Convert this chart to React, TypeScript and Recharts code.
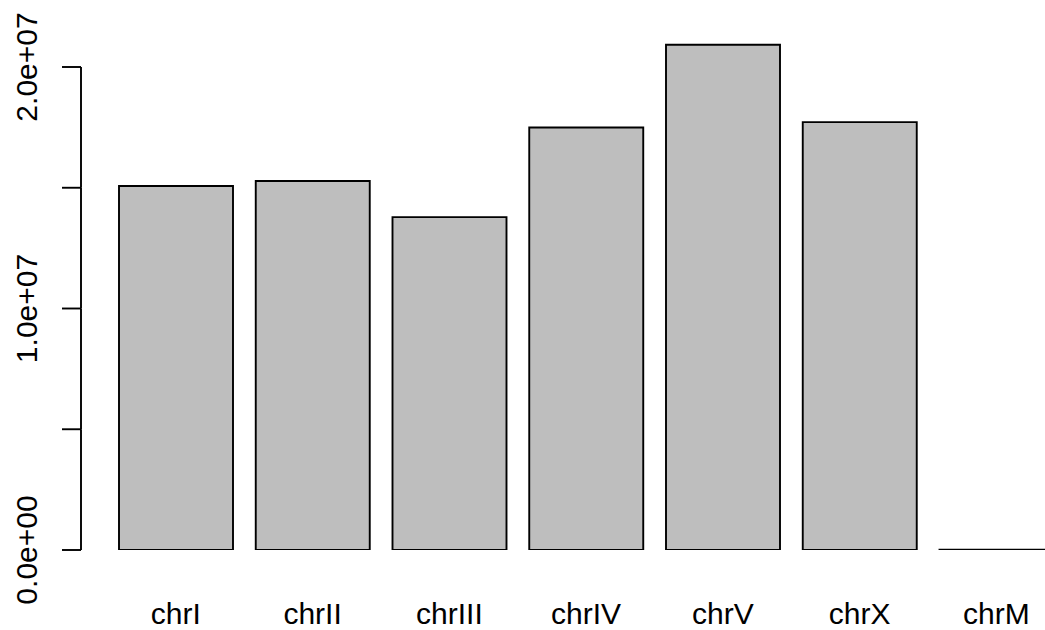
import React from "react";
import { BarChart, Bar, XAxis, YAxis } from "recharts";

const categories = ["chrI", "chrII", "chrIII", "chrIV", "chrV", "chrX", "chrM"];
const lengths = [15072434, 15279421, 13783801, 17493829, 20924180, 17718942, 13794];
const yTicks = [0, 5000000, 10000000, 15000000, 20000000];
const yTickLabels = ["0.0e+00", "", "1.0e+07", "", "2.0e+07"];

const data = categories.map((c, i) => ({ name: c, len: lengths[i] }));

const W = 1100;
const H = 630;
const M_TOP = 18.7;
const M_RIGHT = 35.25;
const X_AXIS_H = 80;
const Y_AXIS_W = 81;
const Y_MAX = 22000000;
const PLOT_H = H - M_TOP - X_AXIS_H;
const LW = 1.9;
const FONT = "'Liberation Sans', Arial, Helvetica, sans-serif";

const YTick = (props: any) => {
  const { x, y, payload } = props;
  const v = payload.value;
  const idx = yTicks.indexOf(v);
  const next = idx >= 0 && idx < yTicks.length - 1 ? yTicks[idx + 1] : null;
  const label = idx >= 0 ? yTickLabels[idx] : "";
  const lx = x - 44;
  return (
    <g>
      <line x1={x - 19} x2={x} y1={y} y2={y} stroke="#000" strokeWidth={LW} />
      {next !== null && (
        <line
          x1={x}
          x2={x}
          y1={y}
          y2={y - (PLOT_H * (next - v)) / Y_MAX}
          stroke="#000"
          strokeWidth={LW}
        />
      )}
      {label && (
        <text
          x={lx}
          y={y}
          transform={`rotate(-90 ${lx} ${y})`}
          textAnchor="middle"
          fontSize={30}
          fontFamily={FONT}
          fill="#000"
        >
          {label}
        </text>
      )}
    </g>
  );
};

const XTick = (props: any) => {
  const { x, y, payload } = props;
  return (
    <text
      x={x}
      y={y + 74}
      textAnchor="middle"
      fontSize={30}
      fontFamily={FONT}
      fill="#000"
    >
      {payload.value}
    </text>
  );
};

export default function App() {
  return (
    <div
      style={{
        position: "absolute",
        left: 0,
        top: 0,
        width: 1045,
        height: 630,
        overflow: "hidden",
        background: "#fff",
      }}
    >
      <BarChart
        width={W}
        height={H}
        data={data}
        margin={{ top: M_TOP, right: M_RIGHT, bottom: 0, left: 0 }}
        barCategoryGap={11.5}
      >
        <XAxis
          dataKey="name"
          height={X_AXIS_H}
          axisLine={false}
          tickLine={false}
          tickSize={0}
          tickMargin={0}
          interval={0}
          padding={{ left: 26.5, right: 0 }}
          tick={<XTick />}
        />
        <YAxis
          width={Y_AXIS_W}
          domain={[0, Y_MAX]}
          ticks={yTicks}
          axisLine={false}
          tickLine={false}
          tickSize={0}
          tickMargin={0}
          interval={0}
          allowDataOverflow
          tick={<YTick />}
        />
        <Bar
          dataKey="len"
          fill="#bebebe"
          stroke="#000"
          strokeWidth={LW}
          isAnimationActive={false}
        />
      </BarChart>
    </div>
  );
}
